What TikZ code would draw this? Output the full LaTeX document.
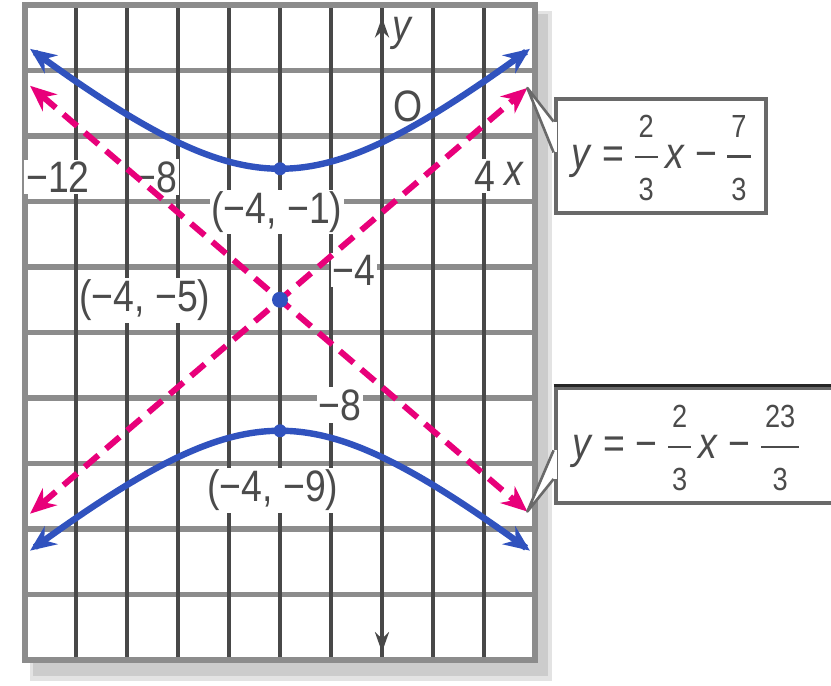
\documentclass[tikz,border=0pt]{standalone}
\usepackage{fontspec}
\setmainfont{Liberation Sans}[FakeStretch=0.85]
\usetikzlibrary{arrows.meta,calc}
\definecolor{bluec}{RGB}{48,82,190}
\definecolor{pinkc}{RGB}{232,0,122}
\definecolor{vgridc}{RGB}{72,72,72}
\definecolor{hgridc}{RGB}{140,140,140}
\definecolor{txtc}{RGB}{75,75,75}
\definecolor{boxc}{RGB}{105,105,105}
\newcommand{\eqfrac}[2]{\ensuremath{\vcenter{\hbox{\fontsize{16}{18}\selectfont
  \renewcommand{\arraystretch}{0}\setlength{\arrayrulewidth}{1.4pt}%
  \begin{tabular}{@{\hspace{2pt}}c@{\hspace{2pt}}}\rule[-9pt]{0pt}{12pt}#1\\\hline\rule{0pt}{21pt}#2\end{tabular}}}}}
\begin{document}
\begin{tikzpicture}[x=0.5pt,y=-0.5pt,
  lab/.style={font=\fontsize{22}{24}\selectfont, text=txtc, fill=white, inner sep=1pt},
  plainlab/.style={font=\fontsize{22}{24}\selectfont, text=txtc, inner sep=1pt},
  hgrid/.style={draw=hgridc, line width=2.6pt},
  vgrid/.style={draw=vgridc, line width=1.8pt},
  frameline/.style={draw=hgridc, line width=3pt},
  bluel/.style={draw=bluec, line width=3.2pt, {Stealth[length=13pt,width=11pt]}-{Stealth[length=13pt,width=11pt]}},
  pinkl/.style={draw=pinkc, line width=3pt, dash pattern=on 9pt off 5pt, {Stealth[length=13pt,width=11pt]}-{Stealth[length=13pt,width=11pt]}},
  dot/.style={circle, fill=bluec, inner sep=0pt, minimum size=6.5pt},
  cbox/.style={draw=boxc, line width=2.4pt, fill=white, text=txtc, font=\fontsize{22}{24}\selectfont, inner sep=0pt},
  eqtxt/.style={text=txtc, font=\fontsize{22}{24}\selectfont, inner sep=0pt},
  tail/.style={draw=boxc, fill=white, line width=1.3pt, line join=round}
]
\useasboundingbox (0,0) rectangle (831,686);
% shadow and background of the grid
\fill[gray!22] (30,11) rectangle (552,681);
\fill[gray!40] (33,14) rectangle (548,676);
\fill[white] (25,5) rectangle (535,660);
\begin{scope}[shift={(382,136)}, xscale=25.5, yscale=-32.75]
  \foreach \j in {-16,-14,...,4} \draw[hgrid] (-14,\j) -- (6,\j);
  \foreach \i in {-14,-12,...,6} \draw[vgrid] (\i,-16) -- (\i,4);
  \draw[frameline] (-14,-16) rectangle (6,4);
  \coordinate (ybot) at (0,-15.76);
  \coordinate (ytop) at (0,3.62);
  \coordinate (a1s) at (-13.8,-11.533);
  \coordinate (a1e) at (5.7,1.467);
  \coordinate (a2s) at (-13.8,1.533);
  \coordinate (a2e) at (5.7,-11.467);
  \coordinate (pv1) at (-4,-1);
  \coordinate (pc) at (-4,-5);
  \coordinate (pv2) at (-4,-9);
\end{scope}
\draw[draw=vgridc, line width=1.8pt, {Stealth[length=10pt,width=7pt]}-{Stealth[length=10pt,width=7pt]}] (ybot) -- (ytop);
% axis labels
\node[lab] (lm12) at (58,177) {−12};
\node[lab] (lm8) at (156,177) {−8};
\node[lab] (l4) at (485,176) {4};
\node[lab] (lx) at (514,174) {\textit{x}};
\node[plainlab] (lo) at (408,106) {O};
\node[lab] (ly) at (403,33) {\textit{y}};
\node[lab] (lm4y) at (354,270) {−4};
\node[lab] (lm8y) at (340,405) {−8};
% point labels
\node[lab] (lv1) at (277,212) {(−4, −1)};
\node[lab] (lc) at (145,300) {(−4, −5)};
\node[lab] (lv2) at (273,490) {(−4, −9)};
% asymptotes
\draw[pinkl] (a1s) -- (a1e);
\draw[pinkl] (a2s) -- (a2e);
% hyperbola
\begin{scope}[shift={(382,136)}, xscale=25.5, yscale=-32.75]
  \draw[bluel] plot[domain=-13.8:5.8, samples=90, smooth] (\x, {-5+4*sqrt(1+((\x+4)/6)*((\x+4)/6))});
  \draw[bluel] plot[domain=-13.8:5.8, samples=90, smooth] (\x, {-5-4*sqrt(1+((\x+4)/6)*((\x+4)/6))});
\end{scope}
\node[dot] (dv1) at (pv1) {};
\node[dot, minimum size=8pt] (dc) at (pc) {};
\node[dot] (dv2) at (pv2) {};
% callout 1
\node[cbox, minimum width=105pt, minimum height=57pt] (eq1) at (661,156) {};
\coordinate (e1a) at ($(eq1.north west)!0.21!(eq1.south west)$);
\coordinate (e1b) at ($(eq1.north west)!0.47!(eq1.south west)$);
\draw[white, line width=3pt] (e1a) -- (e1b);
\filldraw[tail] (e1a) -- (a1e) -- (e1b);
\node[eqtxt] (eq1t) at (661,158)
  {\textit{y} = \eqfrac{2}{3}\,\textit{x} − \eqfrac{7}{3}};
% callout 2
\node[cbox, minimum width=152pt, minimum height=57.5pt] (eq2) at (708,445.5) {};
\draw[black!85, line width=1.8pt] (eq2.north west) -- (eq2.north east);
\coordinate (e2a) at ($(eq2.north west)!0.54!(eq2.south west)$);
\coordinate (e2b) at ($(eq2.north west)!0.78!(eq2.south west)$);
\draw[white, line width=3pt] (e2a) -- (e2b);
\filldraw[tail] (e2a) -- (a2e) -- (e2b);
\node[eqtxt] (eq2t) at (686,448)
  {\textit{y} = − \eqfrac{2}{3}\,\textit{x} − \eqfrac{23}{3}};
\end{tikzpicture}
\end{document}
